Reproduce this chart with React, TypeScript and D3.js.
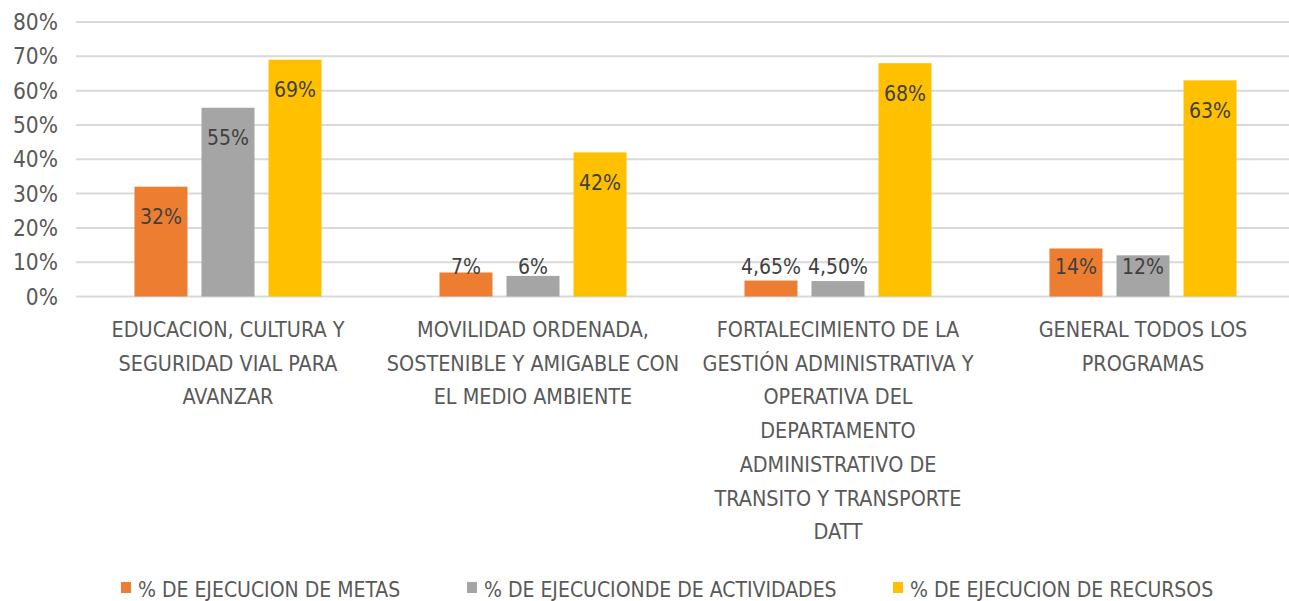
import React from 'react';
import * as d3 from 'd3';

// categories (each label already split into the lines the chart shows)
const categories = ['EDU', 'MOV', 'FORT', 'GEN'];
const categoryLines = [
    ['EDUCACION, CULTURA Y', 'SEGURIDAD VIAL PARA', 'AVANZAR'],
    ['MOVILIDAD ORDENADA,', 'SOSTENIBLE Y AMIGABLE CON', 'EL MEDIO AMBIENTE'],
    ['FORTALECIMIENTO DE LA', 'GESTIÓN ADMINISTRATIVA Y', 'OPERATIVA DEL', 'DEPARTAMENTO', 'ADMINISTRATIVO DE', 'TRANSITO Y TRANSPORTE', 'DATT'],
    ['GENERAL TODOS LOS', 'PROGRAMAS'],
];

const seriesNames = [
    '% DE EJECUCION DE METAS',
    '% DE EJECUCIONDE DE ACTIVIDADES',
    '% DE EJECUCION DE RECURSOS',
];
const metas = [32, 7, 4.65, 14];
const actividades = [55, 6, 4.5, 12];
const recursos = [69, 42, 68, 63];
const seriesValues = [metas, actividades, recursos];
const colors = ['#ED7D31', '#A5A5A5', '#FFC000'];

const yTicks = [0, 10, 20, 30, 40, 50, 60, 70, 80];

const FONT = '"Liberation Sans Narrow", "DejaVu Sans Condensed", "Liberation Sans", sans-serif';

const fmt = (v: number) =>
    Number.isInteger(v) ? `${v}%` : `${v.toFixed(2).replace('.', ',')}%`;

const App = () => {
    const width = 1289, height = 601;
    const plotLeft = 75.5, plotRight = 1295.5;
    const y = d3.scaleLinear().domain([0, 80]).range([296.5, 22]);

    const x0 = d3.scaleBand().domain(categories).range([plotLeft, plotRight]);
    // bar 53px, gap 14px inside a 305px category
    const x1 = d3.scaleBand<number>()
        .domain([0, 1, 2])
        .range([0, x0.bandwidth()])
        .paddingInner(14 / 67)
        .paddingOuter(0.88);

    const legendX = [121, 467, 893];

    return (
        <svg width={width} height={height} style={{ position: 'absolute', left: 0, top: 0 }}
            fontFamily={FONT}>
            <rect width={width} height={height} fill="#fff" />

            {/* gridlines */}
            {yTicks.map(t => (
                <line key={t} x1={76} x2={width} y1={y(t)} y2={y(t)} stroke="#D9D9D9" strokeWidth={2} />
            ))}

            {/* y axis labels */}
            {yTicks.map(t => (
                <text key={t} x={58} y={y(t) + 8} textAnchor="end" fontSize={22.5} fill="#595959">{t}%</text>
            ))}

            {/* bars */}
            {categories.map((c, ci) => (
                <g key={c} transform={`translate(${x0(c)},0)`}>
                    {seriesValues.map((vals, si) => {
                        const v = vals[ci];
                        const bx = x1(si)!;
                        const top = y(v);
                        const ly = Math.min(top + 30, y(0) - 30);
                        return (
                            <g key={si}>
                                <rect x={bx} y={top} width={x1.bandwidth()} height={y(0) - top} fill={colors[si]} />
                                <text x={bx + x1.bandwidth() / 2} y={ly + 7.5} textAnchor="middle"
                                    fontSize={21} fill="#404040">{fmt(v)}</text>
                            </g>
                        );
                    })}
                </g>
            ))}

            {/* category labels */}
            {categories.map((c, ci) => (
                <text key={c} textAnchor="middle" fontSize={21.4} fill="#595959">
                    {categoryLines[ci].map((line, li) => (
                        <tspan key={li} x={x0(c)! + x0.bandwidth() / 2} y={337 + li * 33.7}>{line}</tspan>
                    ))}
                </text>
            ))}

            {/* legend */}
            {seriesNames.map((name, si) => (
                <g key={name} transform={`translate(${legendX[si]},0)`}>
                    <rect x={0} y={582} width={10} height={11} fill={colors[si]} />
                    <text x={17} y={597} fontSize={21} fill="#595959">{name}</text>
                </g>
            ))}
        </svg>
    );
};

export default App;
